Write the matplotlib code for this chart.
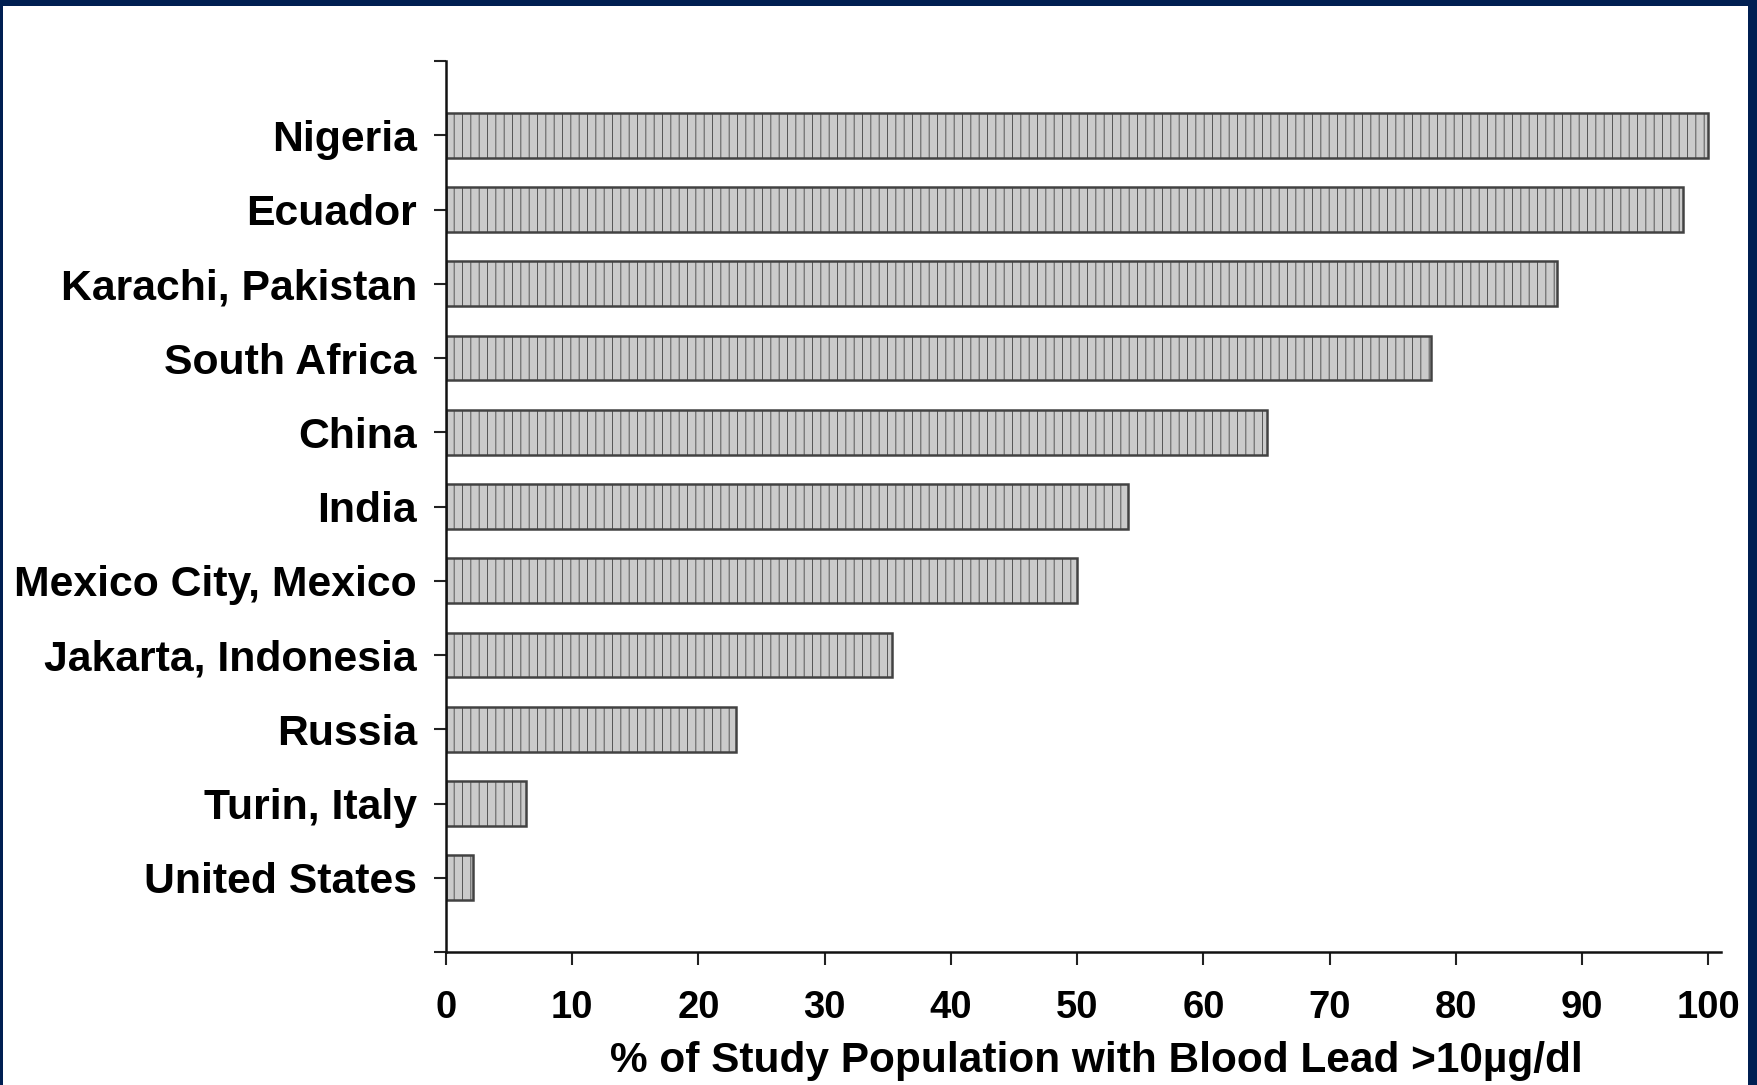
import matplotlib
matplotlib.use('Agg')
import matplotlib.pyplot as plt
from matplotlib.patches import Rectangle

# data
places = ['Nigeria', 'Ecuador', 'Karachi, Pakistan', 'South Africa', 'China', 'India',
          'Mexico City, Mexico', 'Jakarta, Indonesia', 'Russia', 'Turin, Italy', 'United States']
pct_over_10 = [100, 98, 88, 78, 65, 54, 50, 35.3, 23, 6.3, 2.1]
x_ticks = [0, 10, 20, 30, 40, 50, 60, 70, 80, 90, 100]
x_label = '% of Study Population with Blood Lead >10\u00b5g/dl'

plt.rcParams['font.family'] = ['Liberation Sans', 'DejaVu Sans']
plt.rcParams['font.weight'] = 'bold'
plt.rcParams['hatch.color'] = '#c1c1c1'
plt.rcParams['hatch.linewidth'] = 0.6

W, H = 1758, 1085
fig = plt.figure(figsize=(W / 100, H / 100), dpi=100)
fig.patch.set_facecolor('#001f52')
# white slide area inside the navy frame
fig.patches.append(Rectangle((3 / W, 0), (1748 - 3) / W, (H - 6) / H,
                             transform=fig.transFigure, facecolor='white',
                             edgecolor='none', zorder=-5))

ax = fig.add_axes([446 / W, 1 - 952 / H, (1721 - 446) / W, (952 - 61) / H])
ax.set_facecolor('none')
ax.set_zorder(2)

pos = list(range(len(places)))
bars = ax.barh(pos, pct_over_10, height=0.6, color='#cbcbcb', edgecolor='#424242',
               linewidth=1.8, hatch='||', zorder=2)

ax.set_xlim(0, 101)
ax.set_ylim(11, -1)

ax.set_yticks([-1] + pos + [11])
ax.set_yticklabels([''] + places + [''], fontsize=30.8, fontweight='bold')
ax.set_xticks(x_ticks)
ax.set_xticklabels([str(t) for t in x_ticks], fontsize=27.5, fontweight='bold')

ax.tick_params(axis='y', length=9, width=1.5, pad=12, color='#222222')
ax.tick_params(axis='x', length=9.5, width=1.5, pad=18, color='#222222')

for s in ['top', 'right']:
    ax.spines[s].set_visible(False)
for s in ['left', 'bottom']:
    ax.spines[s].set_linewidth(1.8)
    ax.spines[s].set_color('#111111')

ax.set_xlabel(x_label, fontsize=30.5, fontweight='bold')
ax.xaxis.set_label_coords(0.51, -0.1)

fig.savefig('out.png', dpi=100, facecolor=fig.get_facecolor())
